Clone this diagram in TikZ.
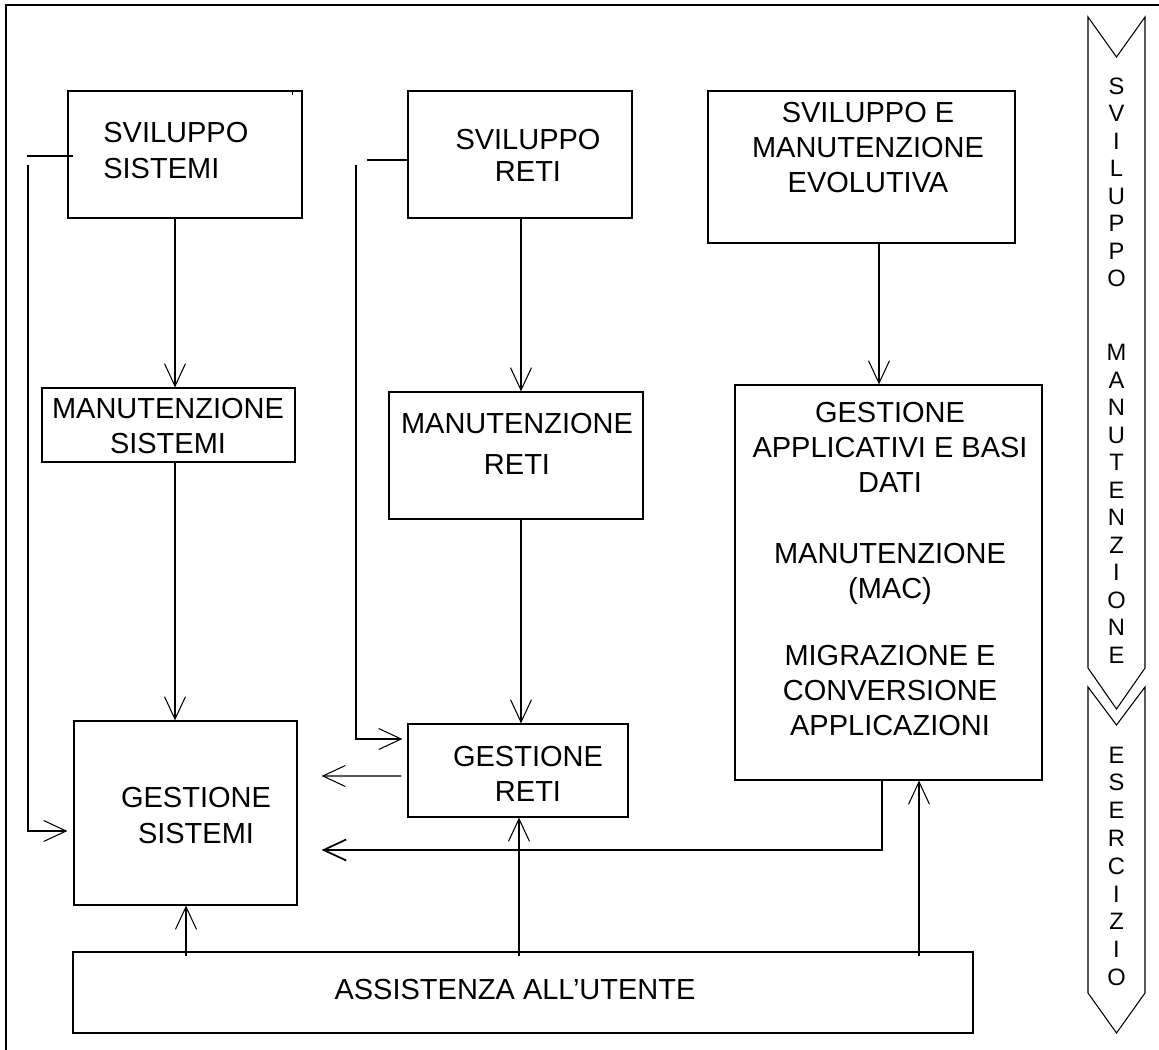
\documentclass[tikz,border=0pt]{standalone}
\usepackage{fontspec}
\setmainfont{Liberation Sans}
\usetikzlibrary{arrows.meta,calc}

\begin{document}
\begin{tikzpicture}[x=0.02cm, y=-0.02cm,
    box/.style={draw, line width=0.7pt, inner sep=0pt},
    lbl/.style={inner sep=0pt, align=center, font=\fontsize{16.5pt}{20pt}\selectfont},
    arr/.style={line width=0.6pt, -{Straight Barb[length=0.45cm,width=0.42cm]}},
    conn/.style={line width=0.6pt},
    letter/.style={inner sep=0pt, font=\fontsize{13.5pt}{16pt}\selectfont}]
        \useasboundingbox (0,0) rectangle (1159,1050);
        % Frame
        \draw[line width=1pt] (6,1050) -- (6,5) -- (1159,5);

        % Boxes
        \node[box, minimum width=4.68cm, minimum height=2.54cm] (ss) at (185,154.5) {};
        \node[box, minimum width=4.48cm, minimum height=2.54cm] (sr) at (520,154.5) {};
        \node[box, minimum width=6.14cm, minimum height=3.04cm] (sme) at (861.5,167) {};
        \node[box, minimum width=5.06cm, minimum height=1.48cm] (ms) at (168.5,425) {};
        \node[box, minimum width=5.08cm, minimum height=2.54cm] (mr) at (516,455.5) {};
        \node[box, minimum width=6.14cm, minimum height=7.90cm] (ga) at (888.5,582.5) {};
        \node[box, minimum width=4.46cm, minimum height=3.68cm] (gs) at (185.5,813) {};
        \node[box, minimum width=4.40cm, minimum height=1.86cm] (gr) at (518,770.5) {};
        \node[box, minimum width=18.0cm, minimum height=1.62cm] (au) at (523,992.5) {};
        \draw[conn] ($(ss.north east)+(-10,0)$) -- ++(0,5);

        % Texts
        \node[lbl, anchor=west, align=left] (ss-t) at (103,150.5) {SVILUPPO\\SISTEMI};
        \node[lbl] (sr-t) at (528,155.5) {SVILUPPO\\[-0.05cm]RETI};
        \node[lbl] (sme-t) at (868,147.5) {SVILUPPO E\\MANUTENZIONE\\EVOLUTIVA};
        \node[lbl] (ms-t) at (168,426) {MANUTENZIONE\\SISTEMI};
        \node[lbl] (mr-t) at (517,444) {MANUTENZIONE\\[0.13cm]RETI};
        \node[lbl] (ga-t) at (890,569) {GESTIONE\\APPLICATIVI E BASI\\DATI\\[20pt]MANUTENZIONE\\(MAC)\\[18pt]MIGRAZIONE E\\CONVERSIONE\\APPLICAZIONI};
        \node[lbl] (gr-t) at (528,774) {GESTIONE\\RETI};
        \node[lbl] (gs-t) at (196,815.5) {GESTIONE\\SISTEMI};
        \node[lbl] (au-t) at (515,990) {ASSISTENZA ALL’UTENTE};

        % Columns of the vertical connectors
        \coordinate (colS) at (175,0);
        \coordinate (colR) at (521,0);
        \coordinate (colA) at (879,0);
        \coordinate (upS) at (186,0);
        \coordinate (upR) at (519,0);
        \coordinate (upA) at (919,0);

        % Downward flow
        \draw[arr] (ss.south -| colS) -- (ms.north -| colS);
        \draw[arr] (ms.south -| colS) -- (gs.north -| colS);
        \draw[arr] (sr.south -| colR) -- (mr.north -| colR);
        \draw[arr] (mr.south -| colR) -- (gr.north -| colR);
        \draw[arr] (sme.south -| colA) -- (ga.north -| colA);

        % Feeds from the development boxes
        \coordinate (ssfeed) at (28,165);
        \coordinate (srfeed) at (356,165);
        \draw[conn] ($(ss.west)+(6,1.5)$) -- ++(-46,0);
        \draw[arr] (ssfeed) |- ($(gs.west)+(-6,18)$);
        \draw[conn] ($(sr.west)+(0,5.5)$) -- ++(-40,0);
        \draw[arr] (srfeed) |- ($(gr.west)+(-5,-31.5)$);

        % Into gestione sistemi
        \coordinate (gsin1) at ($(gs.east)+(24,-37)$);
        \coordinate (gsin2) at ($(gs.east)+(24,37)$);
        \draw[arr] ($(gr.west)+(-6,5.5)$) -- (gsin1);
        \draw[arr, line width=1pt] ($(ga.south)+(-6.5,0)$) |- (gsin2);

        % From assistenza
        \draw[arr] ($(au.north -| upS)+(0,5)$) -- (gs.south -| upS);
        \draw[arr] ($(au.north -| upR)+(0,5)$) -- (gr.south -| upR);
        \draw[arr] ($(au.north -| upA)+(0,5)$) -- (ga.south -| upA);

        % Phase chevrons
        \draw[conn] (1088,17) -- (1116.5,57) -- (1145,17) -- (1145,668) -- (1116.5,709) -- (1088,668) -- cycle;
        \draw[conn] (1088,687) -- (1116.5,725) -- (1145,687) -- (1145,993) -- (1116.5,1033) -- (1088,993) -- cycle;
        \foreach \ch [count=\i from 0] in {S,V,I,L,U,P,P,O}
            \node[letter] (sv\i) at (1116.5,86+27.5*\i) {\ch};
        \foreach \ch [count=\i from 0] in {M,A,N,U,T,E,N,Z,I,O,N,E}
            \node[letter] (mn\i) at (1116.5,352.5+27.5*\i) {\ch};
        \foreach \ch [count=\i from 0] in {E,S,E,R,C,I,Z,I,O}
            \node[letter] (es\i) at (1116.5,755+27.8*\i) {\ch};
\end{tikzpicture}
\end{document}
